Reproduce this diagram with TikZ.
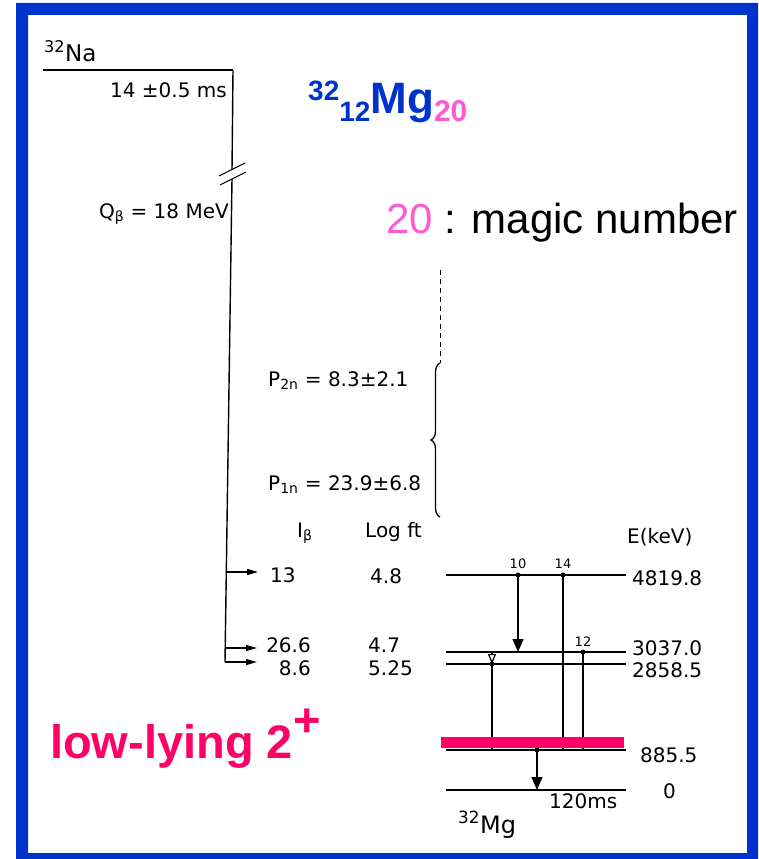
\documentclass[tikz,border=0pt]{standalone}
\usepackage{fontspec}
\setmainfont{Liberation Sans}
\newfontfamily\scanfont{DejaVu Sans}
\usetikzlibrary{arrows.meta, positioning, calc, decorations.pathreplacing}
\definecolor{slideblue}{RGB}{0,51,204}
\definecolor{magicpink}{RGB}{255,90,210}
\definecolor{lowpink}{RGB}{255,0,102}
\newcommand\fsz[1]{\fontsize{#1}{#1}\selectfont}

\begin{document}
\begin{tikzpicture}[x=1pt,y=-1pt,
  scan/.style={font=\scanfont\fsz{20}, inner sep=0pt},
  tiny/.style={font=\scanfont\fsz{13}, inner sep=0pt, anchor=base},
  level/.style={line width=1.8pt},
  gline/.style={line width=1.2pt},
  feed/.style={line width=1.4pt, -{Triangle[length=11pt,width=6pt]}},
  bigtip/.style={gline, -{Triangle[length=13pt,width=11pt]}},
  smalltip/.style={gline, -{Triangle[length=6pt,width=6pt]}}]
  \useasboundingbox (0,0) rectangle (759,859);
  \fill[slideblue, even odd rule] (16,3) rectangle (758,859) (28,15) rectangle (747,853);

  \node[font=\bfseries, inner sep=0pt, anchor=base west] (title) at (308,113)
    {\color{slideblue}\raisebox{13pt}{\fsz{28}32}\raisebox{-9pt}{\fsz{28}12}\fsz{44}Mg\raisebox{-9pt}{\color{magicpink}\fsz{30}20}};
  \node[inner sep=0pt, anchor=base west] (magic) at (386,233)
    {\fsz{42}{\color{magicpink}20} : magic number};
  \node[font=\bfseries, inner sep=0pt, anchor=base west, text=lowpink] (lowlying) at (50,758)
    {\fsz{47}low-lying 2\raisebox{22pt}{+}};

  % parent 32Na
  \node[scan, font=\scanfont\fsz{23}, anchor=base west] (na) at (44,62) {\textsuperscript{32}Na};
  \node[scan, anchor=base east] (thalf) at (227,97) {14 ±0.5 ms};
  \node[scan, anchor=base east] (qbeta) at (229,218) {Q\textsubscript{β} = 18 MeV};
  \coordinate (naL) at (43,70);
  \coordinate (naR) at (233,70);
  \coordinate (brk1) at (232,170);
  \coordinate (brk2) at (232,179);
  \coordinate (nBot) at (225,662);
  \draw[level] (naL) -- (naR);
  \draw[line width=1.4pt] (naR) -- (brk1);
  \draw[line width=1.4pt] (brk2) -- (nBot);
  \draw[line width=1.1pt] ($(brk1)+(-13,6)$) -- ($(brk1)+(13,-7)$);
  \draw[line width=1.1pt] ($(brk2)+(-12,6)$) -- ($(brk2)+(14,-7)$);

  % beta feeding
  \coordinate (f13) at (226,572);
  \coordinate (f266) at (225.2,648);
  \coordinate (e13) at (258,572);
  \coordinate (e266) at (257,648);
  \coordinate (e86) at (257,662);
  \draw[feed] (f13) -- (e13);
  \draw[feed] (f266) -- (e266);
  \draw[feed] (nBot) -- (e86);

  \node[scan, anchor=base west] (pnn) at (268,386) {P\textsubscript{2n} = 8.3±2.1};
  \node[scan, anchor=base west] (pn) at (268,490) {P\textsubscript{1n} = 23.9±6.8};
  \coordinate (dtop) at (440,270);
  \coordinate (brtop) at (440,363);
  \coordinate (brbot) at (440,517);
  \draw[line width=1pt, dash pattern=on 5pt off 4pt] (dtop) -- (brtop);
  \draw[line width=1.3pt, decorate, decoration={brace, amplitude=9pt}] (brbot) -- (brtop);

  \node[scan, anchor=base west] (ib) at (297,537) {I\textsubscript{β}};
  \node[scan, anchor=base west] (logft) at (365,537) {Log ft};
  \node[scan, anchor=base west] (ekev) at (627,543) {E(keV)};
  \node[scan, anchor=base west] (i13) at (270,582) {13};
  \node[scan, anchor=base east] (i266) at (311,652) {26.6};
  \node[scan, anchor=base east] (i86) at (311,675) {8.6};
  \node[scan, anchor=base west] (ft48) at (370,583) {4.8};
  \node[scan, anchor=base west] (ft47) at (368,652) {4.7};
  \node[scan, anchor=base west] (ft525) at (368,675) {5.25};

  % 32Mg levels
  \foreach \n/\y in {a/575, b/652, c/664, d/750, e/790} {
    \coordinate (\n L) at (446,\y);
    \coordinate (\n R) at (626,\y);
    \draw[level] (\n L) -- (\n R);
  }
  \node[scan, anchor=base west] (en1) at (632,585) {4819.8};
  \node[scan, anchor=base west] (en2) at (632,655) {3037.0};
  \node[scan, anchor=base west] (en3) at (632,677) {2858.5};
  \node[scan, anchor=base west] (en4) at (640,762) {885.5};
  \node[scan, anchor=base west] (en5) at (663,798) {0};
  \node[scan, anchor=base west] (mgt) at (549,808) {120ms};
  \node[scan, font=\scanfont\fsz{24}, anchor=base west] (mg) at (458,833) {\textsuperscript{32}Mg};

  % gamma transitions
  \foreach \n/\x in {x10/518, x14/563, x12/583, xc/492, x0/537}
    \coordinate (\n) at (\x,0);
  \draw[bigtip] (x10 |- aL) -- (x10 |- bL);
  \draw[smalltip] (x14 |- aL) -- (x14 |- dL);
  \draw[smalltip] (x12 |- bL) -- (x12 |- dL);
  \draw[gline, -{Triangle[open,length=10pt,width=8pt]}] (xc |- bL) -- (xc |- cL);
  \draw[smalltip] (xc |- cL) -- (xc |- dL);
  \draw[bigtip] (x0 |- dL) -- (x0 |- eL);
  \fill (x10 |- aL) circle (2.5);
  \fill (x14 |- aL) circle (2.5);
  \fill (x12 |- bL) circle (2.5);
  \fill (xc |- cL) circle (2.5);
  \fill (x0 |- dL) circle (2.5);
  \node[tiny] (g10) at (518,568) {10};
  \node[tiny] (g14) at (563,568) {14};
  \node[tiny] (g12) at (583,646) {12};

  \fill[lowpink] (441,737) rectangle (624,748);
\end{tikzpicture}
\end{document}
